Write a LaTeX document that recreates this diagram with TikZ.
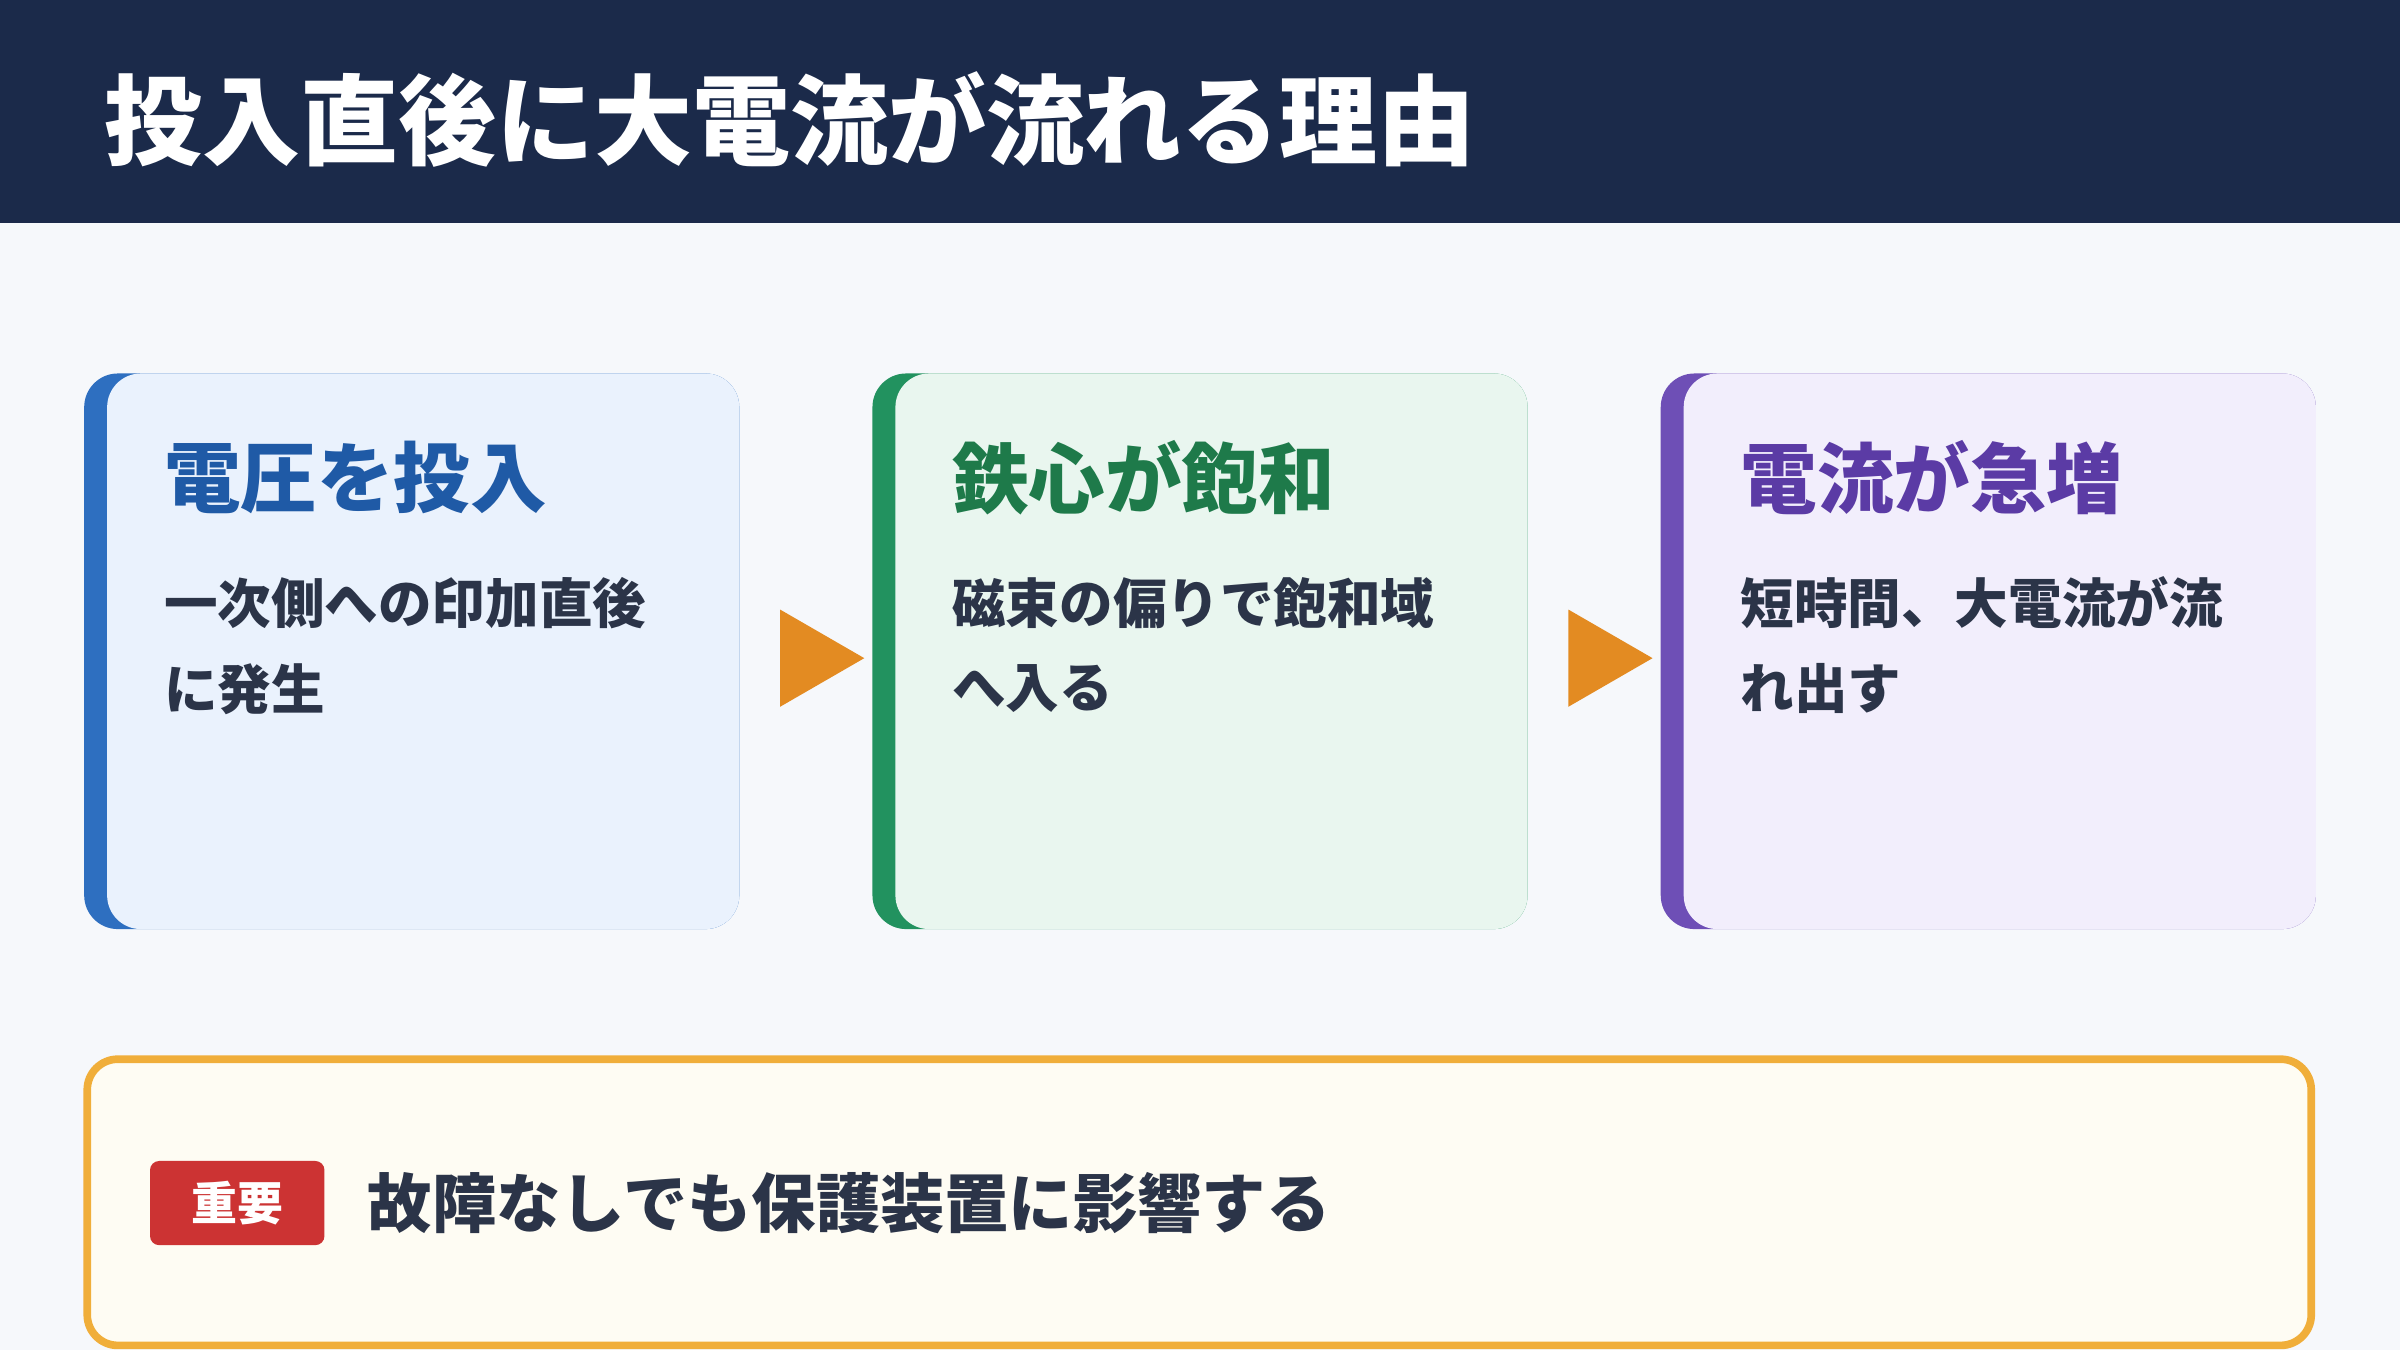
\documentclass[tikz,border=0pt]{standalone}
\usepackage{fontspec}
\setmainfont{Noto Sans CJK JP}
\usepackage{tikz}
\usetikzlibrary{positioning,shapes.geometric}
\definecolor{hdr}{HTML}{1B2A4A}
\definecolor{bg}{HTML}{F6F8FB}
\definecolor{ink}{HTML}{2B3448}
\definecolor{barA}{HTML}{2E6FC0}\definecolor{fillA}{HTML}{EAF2FD}\definecolor{txtA}{HTML}{1F5AA6}
\definecolor{barB}{HTML}{22925F}\definecolor{fillB}{HTML}{E9F6EF}\definecolor{txtB}{HTML}{1E7A4A}
\definecolor{barC}{HTML}{6E4FB6}\definecolor{fillC}{HTML}{F2EEFC}\definecolor{txtC}{HTML}{5B3BA5}
\definecolor{arr}{HTML}{E38B22}
\definecolor{note}{HTML}{F0AE3A}\definecolor{notefill}{HTML}{FEFCF3}
\definecolor{badge}{HTML}{CC3333}
\tikzset{
  head/.style={anchor=west,inner sep=0pt,font=\fontsize{50}{60}\selectfont\bfseries},
  body/.style={anchor=west,inner sep=0pt,text=ink,
    font=\fontsize{35}{42}\selectfont\bfseries},
  flowtip/.style={isosceles triangle,isosceles triangle apex angle=60,fill=arr,
    minimum height=55pt,inner sep=0pt},
}
\begin{document}
\begin{tikzpicture}[x=1pt,y=-1pt]
\fill[bg] (0,0) rectangle (1568,882);
\useasboundingbox (0,0) rectangle (1568,882);
\fill[hdr] (0,0) rectangle (1568,146);
\node[anchor=west,inner sep=0pt,text=white,font=\fontsize{64}{72}\selectfont\bfseries]
  (title) at (68,78) {投入直後に大電流が流れる理由};
\foreach \n/\x/\k/\hd/\la/\lb in{
  a/55/A/{電圧を投入}/{一次側への印加直後}/{に発生},
  b/570/B/{鉄心が飽和}/{磁束の偏りで飽和域}/{へ入る},
  c/1085/C/{電流が急増}/{短時間、大電流が流}/{れ出す}
}
{
  \fill[bar\k,rounded corners=22pt] (\x,244) rectangle ++(428,363);
  \fill[fill\k,rounded corners=22pt] (\x+15,244) rectangle ++(413,363);
  \node[head,text=txt\k] (h\n) at (\x+52,312) {\hd};
  \node[body] (t\n) at (\x+52,394) {\la};
  \node[body] (u\n) at (\x+52,450) {\lb};
}
\node[flowtip] (s1) at (528,430) {};
\node[flowtip] (s2) at (1043,430) {};
\draw[note,line width=5pt,fill=notefill,rounded corners=20pt] (57,692) rectangle (1510,879);
\node[fill=badge,rounded corners=6pt,minimum width=114pt,minimum height=55pt,text=white,
  font=\fontsize{30}{36}\selectfont\bfseries] (imp) at (155,786) {重要};
\node[anchor=west,inner sep=0pt,text=ink,font=\fontsize{42}{50}\selectfont\bfseries,
  right=28pt of imp.east] (msg) {故障なしでも保護装置に影響する};
\end{tikzpicture}
\end{document}
